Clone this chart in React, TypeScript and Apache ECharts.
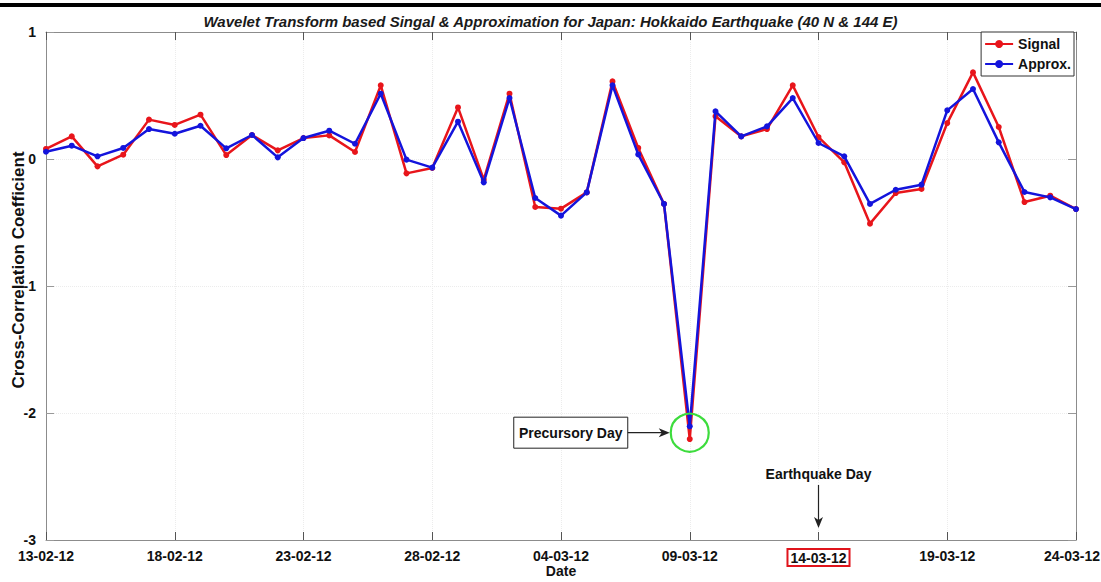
import React, { useEffect, useRef } from "react";
import * as echarts from "echarts";

const DATES: string[] = [
  "13-02-12", "14-02-12", "15-02-12", "16-02-12", "17-02-12", "18-02-12", "19-02-12", "20-02-12",
  "21-02-12", "22-02-12", "23-02-12", "24-02-12", "25-02-12", "26-02-12", "27-02-12", "28-02-12",
  "29-02-12", "01-03-12", "02-03-12", "03-03-12", "04-03-12", "05-03-12", "06-03-12", "07-03-12",
  "08-03-12", "09-03-12", "10-03-12", "11-03-12", "12-03-12", "13-03-12", "14-03-12", "15-03-12",
  "16-03-12", "17-03-12", "18-03-12", "19-03-12", "20-03-12", "21-03-12", "22-03-12", "23-03-12",
  "24-03-12",
];

const SIGNAL: number[] = [
  0.079, 0.178, -0.058, 0.034, 0.31, 0.268, 0.349, 0.031, 0.189, 0.068,
  0.165, 0.186, 0.055, 0.58, -0.113, -0.071, 0.406, -0.163, 0.514, -0.378,
  -0.391, -0.263, 0.611, 0.087, -0.354, -2.205, 0.336, 0.178, 0.236, 0.58,
  0.173, -0.026, -0.509, -0.268, -0.236, 0.283, 0.682, 0.252, -0.339, -0.289,
  -0.394,
];

const APPROX: number[] = [
  0.057, 0.105, 0.021, 0.087, 0.236, 0.199, 0.262, 0.084, 0.189, 0.013,
  0.165, 0.223, 0.12, 0.514, -0.005, -0.068, 0.294, -0.184, 0.48, -0.307,
  -0.446, -0.263, 0.58, 0.036, -0.354, -2.105, 0.375, 0.178, 0.257, 0.48,
  0.126, 0.021, -0.354, -0.242, -0.202, 0.383, 0.551, 0.131, -0.26, -0.302,
  -0.394,
];

const PRECURSORY_INDEX = 25;
const EARTHQUAKE_INDEX = 30;
const TITLE = "Wavelet Transform based Singal & Approximation for Japan: Hokkaido Earthquake (40 N & 144 E)";
const X_NAME = "Date";
const Y_NAME = "Cross-Correlation Coefficient";

const RED = "#e8151b";
const BLUE = "#1414dc";
const AXIS_GREY = "#8c8c8c";
const FONT = "Liberation Sans";

export default function App() {
  const ref = useRef<HTMLDivElement>(null);

  useEffect(() => {
    if (!ref.current) return;
    const chart = echarts.init(ref.current, undefined, { renderer: "svg" });

    const labelStyle = { color: "#111", fontWeight: "bold" as const, fontSize: 14, fontFamily: FONT };
    const lastDate = DATES[DATES.length - 1];

    chart.setOption({
      animation: false,
      backgroundColor: "#ffffff",
      textStyle: { fontFamily: FONT },
      title: {
        text: TITLE,
        left: "center",
        top: 9,
        textStyle: { fontSize: 15, fontWeight: "bold", fontStyle: "italic", color: "#1a1a1a", fontFamily: FONT },
      },
      legend: {
        orient: "vertical",
        right: 27,
        top: 32,
        backgroundColor: "#ffffff",
        borderColor: "#333",
        borderWidth: 1,
        borderRadius: 0,
        padding: [5, 3, 5, 3],
        itemGap: 6,
        itemWidth: 28,
        itemHeight: 10,
        textStyle: { fontSize: 14, fontWeight: "bold", color: "#111", fontFamily: FONT },
        data: ["Signal", "Approx."],
      },
      grid: { left: 46, right: 25, top: 32, bottom: 42, containLabel: false, outerBoundsMode: "none" },
      xAxis: [
        {
          type: "category",
          data: DATES,
          boundaryGap: false,
          axisLine: { onZero: false, lineStyle: { color: AXIS_GREY, width: 1 } },
          axisTick: { show: true, inside: true, length: 8, interval: 4, lineStyle: { color: "#555" } },
          axisLabel: {
            interval: 4,
            margin: 9,
            ...labelStyle,
            formatter: (v: string) =>
              v === DATES[EARTHQUAKE_INDEX] ? `{hl|${v}}` : v === lastDate ? `{last|${v}}` : v,
            rich: {
              hl: {
                ...labelStyle,
                borderColor: "#e0141c",
                borderWidth: 2,
                padding: [2, 3, 1, 3],
              },
              last: {
                ...labelStyle,
                padding: [0, 8, 0, 0],
              },
            },
          },
          splitLine: { show: true, interval: 4, lineStyle: { color: "#ececec", type: "dotted", width: 1 } },
        },
        {
          type: "category",
          data: DATES,
          boundaryGap: false,
          position: "top",
          axisLine: { onZero: false, lineStyle: { color: AXIS_GREY, width: 1 } },
          axisTick: { show: true, inside: true, length: 8, interval: 4, lineStyle: { color: "#555" } },
          axisLabel: { show: false },
          splitLine: { show: false },
        },
      ],
      yAxis: [
        {
          type: "value",
          min: -3,
          max: 1,
          interval: 1,
          axisLine: { show: true, onZero: false, lineStyle: { color: AXIS_GREY, width: 1 } },
          axisTick: { show: true, inside: true, length: 8, lineStyle: { color: "#999" } },
          axisLabel: { ...labelStyle, margin: 10 },
          splitLine: { show: true, lineStyle: { color: "#ececec", type: "dotted", width: 1 } },
        },
        {
          type: "value",
          min: -3,
          max: 1,
          interval: 1,
          position: "right",
          axisLine: { show: true, onZero: false, lineStyle: { color: AXIS_GREY, width: 1 } },
          axisTick: { show: true, inside: true, length: 8, lineStyle: { color: "#999" } },
          axisLabel: { show: false },
          splitLine: { show: false },
        },
      ],
      series: [
        {
          name: "Signal",
          type: "line",
          data: SIGNAL,
          xAxisIndex: 0,
          yAxisIndex: 0,
          symbol: "circle",
          symbolSize: 6,
          showSymbol: true,
          lineStyle: { color: RED, width: 2.5 },
          itemStyle: { color: RED },
          z: 3,
        },
        {
          name: "Approx.",
          type: "line",
          data: APPROX,
          xAxisIndex: 0,
          yAxisIndex: 0,
          symbol: "circle",
          symbolSize: 6,
          showSymbol: true,
          lineStyle: { color: BLUE, width: 2.5 },
          itemStyle: { color: BLUE },
          z: 4,
        },
      ],
    });

    // Annotations positioned through the chart's own scales
    const dipMid = (SIGNAL[PRECURSORY_INDEX] + APPROX[PRECURSORY_INDEX]) / 2;
    const c = chart.convertToPixel({ xAxisIndex: 0, yAxisIndex: 0 }, [PRECURSORY_INDEX, dipMid]) as number[];
    const eqTop = chart.convertToPixel({ xAxisIndex: 0, yAxisIndex: 0 }, [EARTHQUAKE_INDEX, -3]) as number[];
    const top = chart.convertToPixel({ xAxisIndex: 0, yAxisIndex: 0 }, [0, 1]) as number[];
    const right = chart.convertToPixel({ xAxisIndex: 0, yAxisIndex: 0 }, [DATES.length - 1, 1]) as number[];
    const r = 19;
    const boxW = 114;
    const boxH = 31;
    const boxRight = c[0] - r - 43;
    const arrowEnd = c[0] - r - 1;
    const eqX = eqTop[0];
    const eqBottom = eqTop[1] - 12;
    const midY = (top[1] + eqTop[1]) / 2 - 16;
    const midX = (top[0] + right[0]) / 2;

    chart.setOption({
      graphic: [
        { type: "rect", shape: { x: 0, y: 3, width: 1101, height: 4 }, style: { fill: "#000" }, z: 100 },
        {
          type: "text",
          x: 18,
          y: midY,
          rotation: Math.PI / 2,
          style: {
            text: Y_NAME,
            fill: "#111",
            font: `bold 17px "${FONT}"`,
            align: "center",
            verticalAlign: "middle",
          },
          z: 101,
        },
        {
          type: "text",
          x: midX,
          y: eqTop[1] + 31,
          style: {
            text: X_NAME,
            fill: "#111",
            font: `bold 14px "${FONT}"`,
            align: "center",
            verticalAlign: "middle",
          },
          z: 101,
        },
        {
          type: "circle",
          shape: { cx: c[0], cy: c[1], r },
          style: { fill: "none", stroke: "#3ddc3d", lineWidth: 2.2 },
          z: 100,
        },
        {
          type: "rect",
          shape: { x: boxRight - boxW, y: c[1] - boxH / 2, width: boxW, height: boxH },
          style: { fill: "#fff", stroke: "#222", lineWidth: 1 },
          z: 100,
        },
        {
          type: "text",
          x: boxRight - boxW / 2,
          y: c[1],
          style: {
            text: "Precursory Day",
            fill: "#111",
            font: `bold 14px "${FONT}"`,
            align: "center",
            verticalAlign: "middle",
          },
          z: 101,
        },
        {
          type: "line",
          shape: { x1: boxRight, y1: c[1], x2: arrowEnd - 6, y2: c[1] },
          style: { stroke: "#222", lineWidth: 1.2 },
          z: 100,
        },
        {
          type: "polygon",
          shape: { points: [[arrowEnd, c[1]], [arrowEnd - 11, c[1] - 4.5], [arrowEnd - 8, c[1]], [arrowEnd - 11, c[1] + 4.5]] },
          style: { fill: "#222" },
          z: 100,
        },
        {
          type: "text",
          x: eqX,
          y: eqBottom - 54,
          style: {
            text: "Earthquake Day",
            fill: "#111",
            font: `bold 14px "${FONT}"`,
            align: "center",
            verticalAlign: "middle",
          },
          z: 101,
        },
        {
          type: "line",
          shape: { x1: eqX, y1: eqBottom - 43, x2: eqX, y2: eqBottom - 6 },
          style: { stroke: "#222", lineWidth: 1.2 },
          z: 100,
        },
        {
          type: "polygon",
          shape: { points: [[eqX, eqBottom], [eqX - 4.5, eqBottom - 11], [eqX, eqBottom - 8], [eqX + 4.5, eqBottom - 11]] },
          style: { fill: "#222" },
          z: 100,
        },
      ],
    });

    return () => chart.dispose();
  }, []);

  return (
    <div
      ref={ref}
      style={{ position: "fixed", left: 0, top: 0, width: 1101, height: 582, background: "#fff" }}
    />
  );
}
